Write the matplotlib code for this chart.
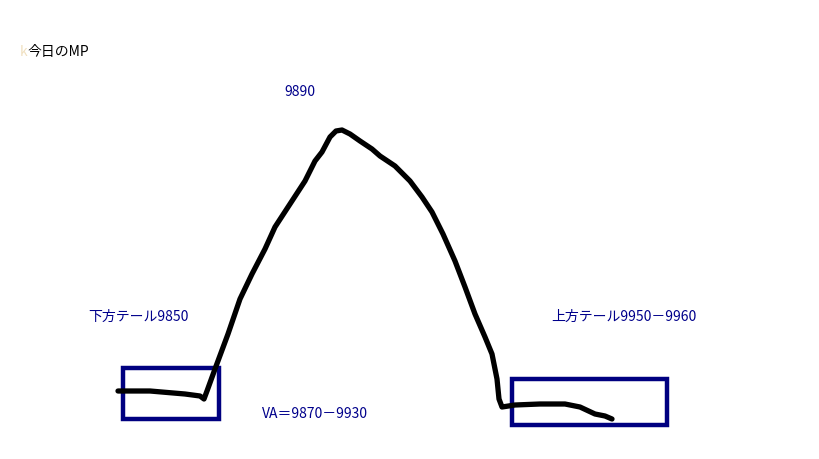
import matplotlib.pyplot as plt
from matplotlib.patches import Rectangle

plt.rcParams['font.family'] = ['Noto Sans CJK JP', 'DejaVu Sans']

# hand drawn profile, in picture pixels (x right, y down)
curve_x = [118, 150, 185, 200, 204, 207, 215, 228, 240, 252, 265, 275, 290, 305, 315,
           322, 330, 336, 342, 350, 360, 372, 380, 395, 410, 422, 432, 443, 455, 465,
           475, 485, 492, 495, 497, 499, 502, 515, 540, 565, 580, 595, 605, 612]
curve_y = [392, 392, 395, 397, 400, 392, 370, 335, 300, 275, 250, 228, 205, 182, 162,
           153, 138, 132, 131, 135, 142, 150, 157, 167, 182, 198, 213, 235, 262, 288,
           315, 338, 355, 370, 380, 400, 408, 406, 405, 405, 408, 415, 417, 420]

# tail boxes: left, top, width, height
boxes = [(123, 369, 96, 51), (512, 380, 155, 46)]

labels = ['9890', '下方テール9850', 'VA＝9870－9930', '上方テール9950－9960']
label_x = [284, 88, 262, 551]
label_y = [92, 317, 414, 317]

fig = plt.figure(figsize=(8.19, 4.60), dpi=100)
ax = fig.add_axes([0, 0, 1, 1])
ax.set_xlim(0, 819)
ax.set_ylim(460, 0)
ax.axis('off')

ax.plot(curve_x, curve_y, color='black', linewidth=3.8,
        solid_capstyle='round', solid_joinstyle='round')

for bx, by, bw, bh in boxes:
    ax.add_patch(Rectangle((bx, by), bw, bh, fill=False,
                           edgecolor='#000080', linewidth=3.2))

for t, x, y in zip(labels, label_x, label_y):
    ax.text(x, y, t, color='#00008b', fontsize=10, va='center', ha='left')

# title at the top left
ax.text(20, 52, 'k', color='#f0e0c0', fontsize=10, va='center', ha='left')
ax.text(27, 52, '今日のMP', color='black', fontsize=10, va='center', ha='left')

fig.savefig('out.png', dpi=100)
